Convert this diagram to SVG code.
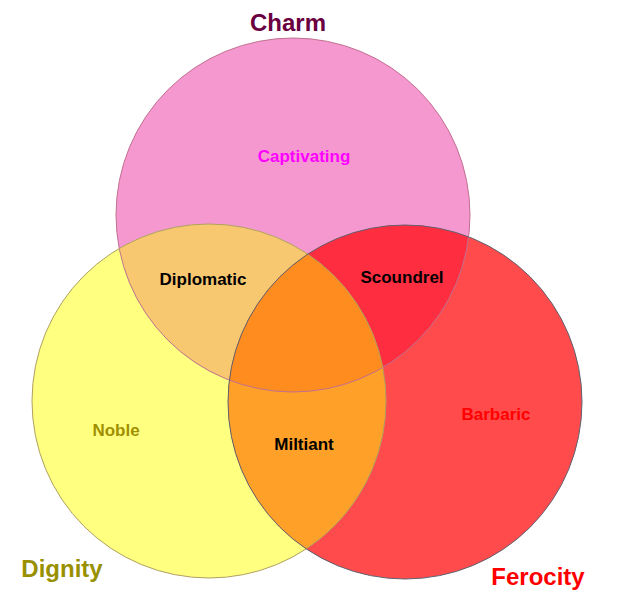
<svg xmlns="http://www.w3.org/2000/svg" width="621" height="599" viewBox="0 0 621 599">
<style>
.t{font-family:"Liberation Sans",Arial,sans-serif;font-weight:bold;text-anchor:middle}
.s{font-size:17px}
.b{font-size:24px}
</style>
<defs>
<clipPath id="cp"><circle cx="293" cy="215" r="177"/></clipPath>
<clipPath id="cy"><circle cx="209" cy="401" r="177"/></clipPath>
<clipPath id="cr"><circle cx="405" cy="402" r="177"/></clipPath>
</defs>
<rect width="621" height="599" fill="#fff"/>
<g id="charm"><circle cx="293" cy="215" r="177" fill="#F598D0"/></g>
<g id="dignity"><circle cx="209" cy="401" r="177" fill="#FFFF80"/></g>
<g id="ferocity"><circle cx="405" cy="402" r="177" fill="#FF4B4B"/></g>
<g id="diplomatic"><circle cx="209" cy="401" r="177" fill="#F7C870" clip-path="url(#cp)"/></g>
<g id="scoundrel"><circle cx="405" cy="402" r="177" fill="#FF2D40" clip-path="url(#cp)"/></g>
<g id="miltiant"><circle cx="405" cy="402" r="177" fill="#FFA028" clip-path="url(#cy)"/></g>
<g id="center" clip-path="url(#cp)"><circle cx="405" cy="402" r="177" fill="#FF8C1E" clip-path="url(#cy)"/></g>
<g id="outlines" fill="none">
<circle cx="293" cy="215" r="177" stroke="#C07090"/>
<circle cx="209" cy="401" r="177" stroke="#B0A060"/>
<circle cx="405" cy="402" r="177" stroke="#606070"/>
</g>
<g id="labels">
<text class="t b" x="288" y="31" fill="#6B0040">Charm</text>
<text class="t b" x="62" y="577" fill="#999000">Dignity</text>
<text class="t b" x="538" y="585" fill="#FF0000">Ferocity</text>
<text class="t s" x="304" y="162" fill="#FF00FF">Captivating</text>
<text class="t s" x="203" y="285" fill="#000">Diplomatic</text>
<text class="t s" x="402" y="283" fill="#000">Scoundrel</text>
<text class="t s" x="116" y="436" fill="#A09000">Noble</text>
<text class="t s" x="304" y="450" fill="#000">Miltiant</text>
<text class="t s" x="496" y="420" fill="#FF0000">Barbaric</text>
</g>
</svg>
